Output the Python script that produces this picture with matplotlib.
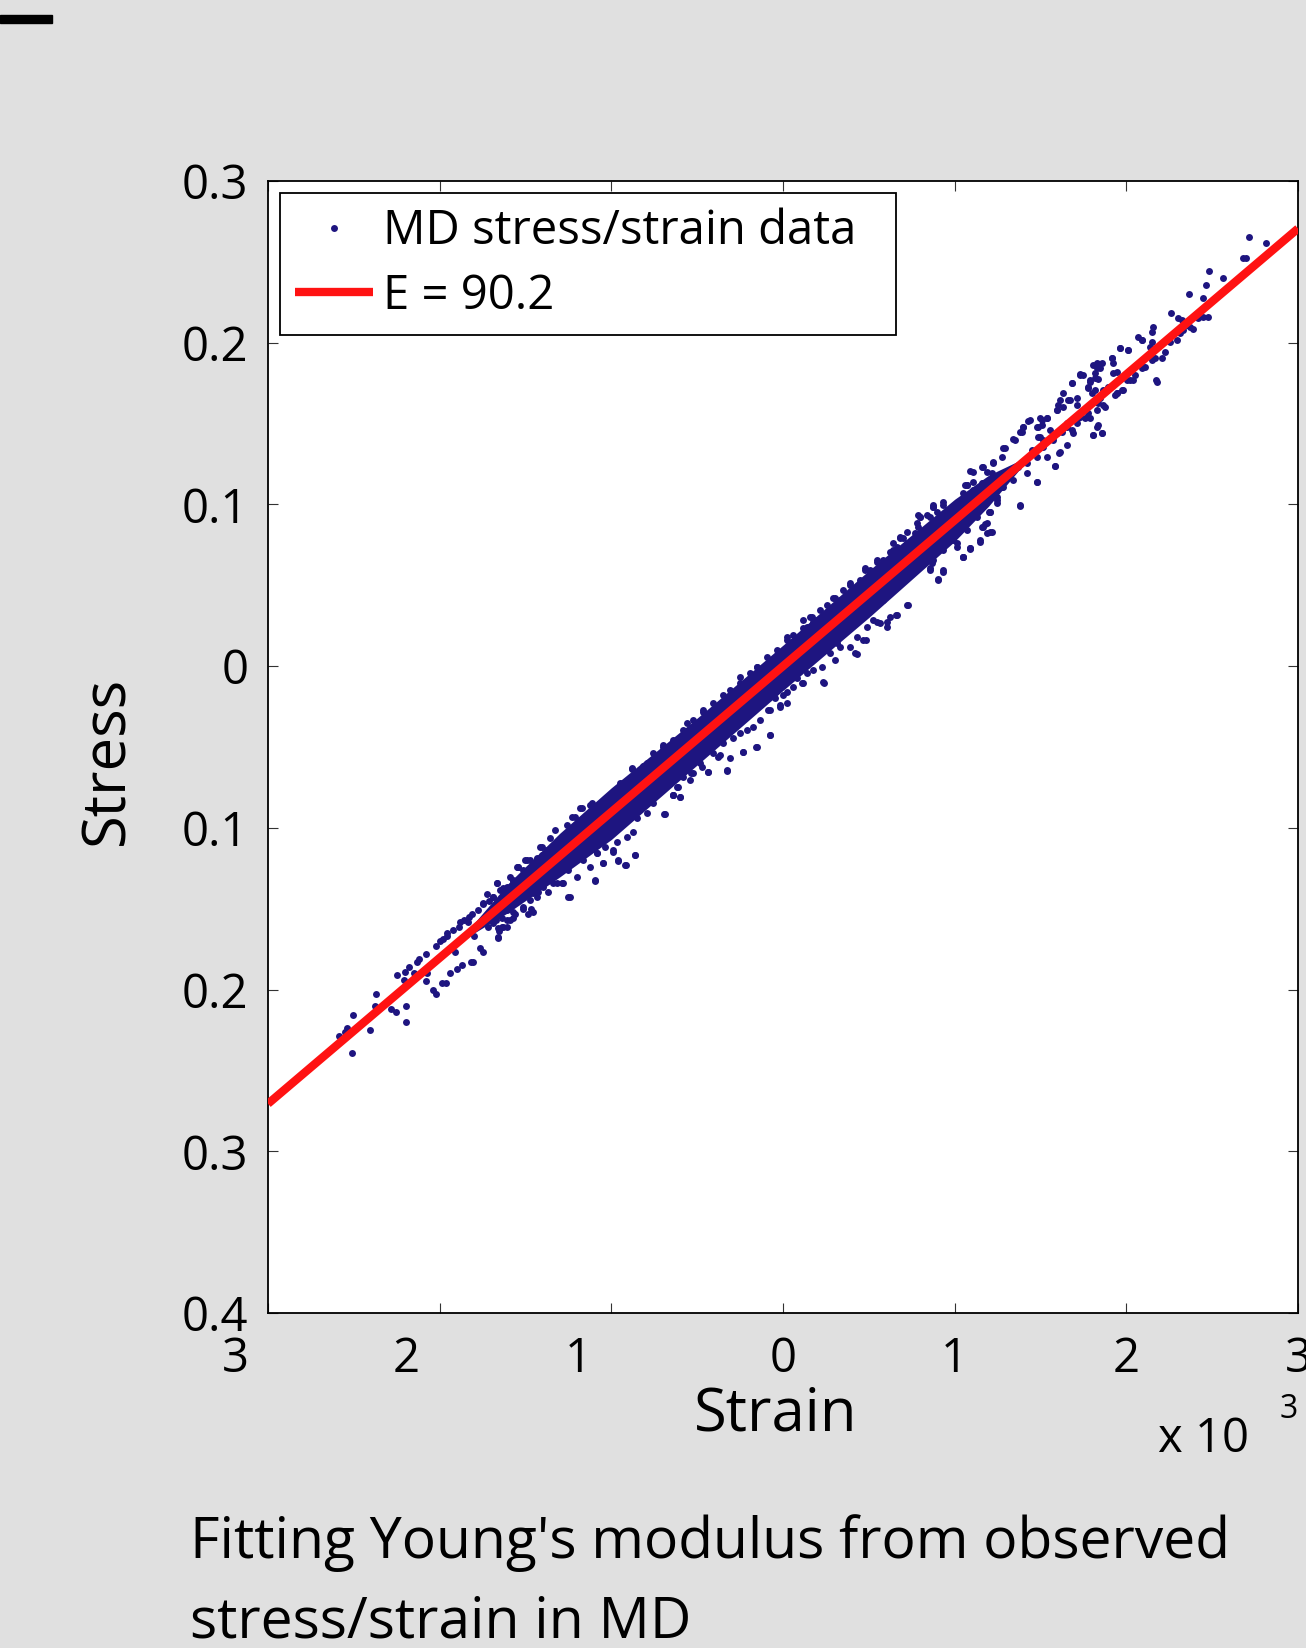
import numpy as np
import matplotlib
matplotlib.use("Agg")
import matplotlib.pyplot as plt
from matplotlib.patches import Rectangle
from matplotlib.transforms import ScaledTranslation

plt.rcParams['font.family'] = ['Open Sans', 'DejaVu Sans']

# MD stress/strain samples: (strain [x 1e-3], stress)
# lower-left tail
tail_low = [
    (-2.512, -0.239), (-2.585, -0.229), (-2.538, -0.224), (-2.551, -0.226), (-2.507, -0.216),
    (-2.404, -0.225), (-2.373, -0.203), (-2.377, -0.210), (-2.284, -0.212), (-2.253, -0.214),
    (-2.198, -0.220), (-2.194, -0.210), (-2.247, -0.191), (-2.208, -0.194), (-2.204, -0.189),
    (-2.177, -0.186), (-2.150, -0.190), (-2.134, -0.183), (-2.119, -0.181), (-2.081, -0.178),
    (-2.072, -0.190), (-2.081, -0.195), (-2.039, -0.2005), (-2.023, -0.203), (-1.985, -0.196),
    (-1.961, -0.196), (-1.940, -0.190), (-1.901, -0.187), (-1.870, -0.185), (-1.817, -0.183),
    (-1.804, -0.183), (-1.909, -0.177), (-2.023, -0.173), (-1.998, -0.170), (-1.979, -0.169),
    (-1.959, -0.167), (-1.956, -0.165), (-1.921, -0.163), (-1.886, -0.1615), (-1.882, -0.158),
    (-1.858, -0.157), (-1.827, -0.155), (-1.833, -0.158), (-1.798, -0.167), (-1.763, -0.174),
    (-1.746, -0.177), (-1.810, -0.153), (-1.775, -0.151), (-1.746, -0.147), (-1.711, -0.145),
    (-1.688, -0.1426), (-1.666, -0.134), (-1.720, -0.161), (-1.662, -0.168), (-1.653, -0.164),
    (-1.662, -0.1618), (-1.629, -0.161), (-1.610, -0.161), (-1.674, -0.157), (-1.660, -0.154),
    (-1.639, -0.156), (-1.610, -0.157), (-1.571, -0.156), (-1.561, -0.153), (-1.610, -0.151),
    (-1.594, -0.149), (-1.649, -0.1385), (-1.610, -0.1364), (-1.571, -0.133), (-1.532, -0.131),
    (-1.493, -0.129), (-1.464, -0.128), (-1.513, -0.150), (-1.484, -0.153), (-1.470, -0.150),
    (-1.513, -0.1426), (-1.493, -0.1405), (-1.455, -0.140), (-1.425, -0.1395), (-1.542, -0.124),
    (-1.493, -0.120), (-1.435, -0.119), (-1.406, -0.117), (-1.416, -0.134), (-1.377, -0.133),
    (-1.357, -0.132), (-1.318, -0.134), (-1.280, -0.134), (-1.251, -0.1426), (-1.095, -0.1327),
    (-1.047, -0.122), (-0.959, -0.1205), (-0.915, -0.123), (-0.862, -0.117), (-1.085, -0.1158),
    (-0.989, -0.1148),
]

# scattered points on both sides of the central band
centre_outliers = [
    (-0.691, -0.0917), (-0.600, -0.0808), (-0.639, -0.0797), (-0.439, -0.0653), (-0.325, -0.0647),
    (-0.231, -0.0533), (-0.155, -0.0503), (-0.076, -0.0428), (-0.377, -0.056), (-0.484, -0.060),
    (-0.534, -0.066), (-0.018, -0.0242), (-0.076, -0.027), (0.021, -0.0158), (0.112, -0.0106),
    (0.239, -0.0103), (0.429, 0.0075), (0.483, 0.0161), (0.545, 0.0275), (0.603, 0.0275),
    (0.658, 0.0316), (0.724, 0.0378), (0.905, 0.0539), (0.934, 0.0585), (1.050, 0.0673),
    (1.089, 0.0722), (1.148, 0.078), (1.206, 0.0831), (1.177, 0.088), (1.200, 0.0951),
    (0.868, 0.0638), (0.856, 0.0594), (0.934, 0.0718),
    (-1.183, -0.088), (-1.124, -0.0859), (-1.231, -0.093), (-1.406, -0.1117), (-1.503, -0.120),
    (-1.551, -0.124), (-0.881, -0.0632), (-0.950, -0.0725), (-0.697, -0.0488), (-0.561, -0.0354),
    (-0.464, -0.0283), (-0.250, -0.0066), (-0.153, -0.0004), (0.021, 0.0182), (0.167, 0.0306),
    (0.293, 0.0419), (0.390, 0.0512), (0.478, 0.0605), (0.545, 0.0657), (0.643, 0.076),
    (0.681, 0.080), (0.788, 0.0934), (0.876, 0.0996),
]

band_low = [
    (-0.882, -0.0633), (-0.814, -0.0618), (-0.775, -0.0602), (-0.930, -0.0725), (-0.988, -0.0777),
    (-1.037, -0.0839), (-1.115, -0.0849), (-1.173, -0.0880), (-1.212, -0.0931), (-1.260, -0.0983),
    (-1.328, -0.1014), (-1.357, -0.1065), (-1.415, -0.1117), (-1.474, -0.1199), (-1.542, -0.1241),
    (-1.590, -0.1303), (-1.668, -0.1344), (-1.726, -0.1406), (-1.746, -0.1467), (-0.833, -0.0684),
    (-0.911, -0.0767), (-0.949, -0.0808), (-1.076, -0.0911), (-1.144, -0.0952), (-1.241, -0.1024),
    (-1.299, -0.1076), (-1.377, -0.1138), (-1.435, -0.1189), (-1.513, -0.1261), (-1.571, -0.1323),
    (-1.629, -0.1375), (-1.687, -0.1426),
    (-0.687, -0.0915), (-0.639, -0.0797), (-0.610, -0.0746), (-0.755, -0.0849), (-0.794, -0.0911),
    (-0.852, -0.0942), (-0.872, -0.1024), (-0.911, -0.1055), (-0.969, -0.1086), (-0.988, -0.1138),
    (-1.037, -0.1117), (-1.085, -0.1158), (-1.124, -0.1241), (-1.163, -0.1199), (-1.202, -0.1303),
    (-1.250, -0.1261), (-1.241, -0.1426), (-1.289, -0.1344), (-1.338, -0.1344), (-1.396, -0.1364),
    (-1.435, -0.1426), (-1.474, -0.1447), (-1.513, -0.1488), (-1.454, -0.1519), (-1.571, -0.1519),
    (-1.590, -0.1570), (-1.639, -0.1612), (-1.658, -0.1674), (-1.687, -0.1591), (-0.862, -0.1169),
    (-0.920, -0.1230), (-0.959, -0.1199), (-1.047, -0.1220), (-1.095, -0.1323), (-1.367, -0.1395),
    (-1.299, -0.1199), (-1.280, -0.1127),
]

band_mid = [
    (-0.794, -0.0601), (-0.755, -0.0540), (-0.697, -0.0498), (-0.639, -0.0457), (-0.581, -0.0395),
    (-0.522, -0.0333), (-0.464, -0.0272), (-0.406, -0.0230), (-0.348, -0.0179), (-0.309, -0.0148),
    (-0.250, -0.0107), (-0.192, -0.0045), (-0.153, -0.0004), (-0.095, 0.0058), (-0.037, 0.0100),
    (0.021, 0.0161), (0.060, 0.0192), (0.118, 0.0233), (0.177, 0.0275), (-0.716, -0.0560),
    (-0.619, -0.0478), (-0.542, -0.0395), (-0.445, -0.0313), (-0.367, -0.0251), (-0.270, -0.0169),
    (-0.192, -0.0096), (-0.115, -0.0024), (-0.017, 0.0058), (0.080, 0.0141), (0.157, 0.0213),
    (0.254, 0.0099), (0.284, 0.0161), (0.303, 0.0038), (0.225, -0.0004), (0.177, -0.0024),
    (0.138, -0.0045), (0.118, -0.0107), (0.235, -0.0096), (0.080, -0.0076), (0.002, -0.0179),
    (-0.017, -0.0251), (-0.047, -0.0199), (-0.085, -0.0272), (-0.076, -0.0426), (-0.153, -0.0498),
    (-0.173, -0.0375), (-0.212, -0.0395), (-0.250, -0.0416), (-0.231, -0.0529), (-0.289, -0.0447),
    (-0.309, -0.0570), (-0.328, -0.0643), (-0.367, -0.0550), (-0.406, -0.0540), (-0.435, -0.0653),
    (-0.445, -0.0498), (-0.503, -0.0581), (-0.522, -0.0663), (-0.542, -0.0704), (-0.581, -0.0684),
    (-0.600, -0.0808), (-0.639, -0.0797), (-0.658, -0.0725), (-0.697, -0.0746), (-0.736, -0.0777),
    (-0.775, -0.0808), (0.060, -0.0127), (0.021, -0.0230), (-0.134, -0.0333), (-0.348, -0.0478),
    (-0.474, -0.0622), (-0.619, -0.0746),
]

band_high = [
    (0.118, 0.0285), (0.157, 0.0306), (0.216, 0.0347), (0.254, 0.0378), (0.303, 0.0419),
    (0.351, 0.0471), (0.390, 0.0502), (0.449, 0.0533), (0.478, 0.0594), (0.507, 0.0594),
    (0.546, 0.0646), (0.584, 0.0656), (0.623, 0.0708), (0.662, 0.0739), (0.701, 0.0790),
    (0.720, 0.0759), (0.769, 0.0821), (0.788, 0.0862), (0.798, 0.0924), (0.837, 0.0935),
    (0.876, 0.0986), (0.895, 0.0955), (0.934, 0.1017), (0.953, 0.0966), (1.012, 0.1007),
    (1.050, 0.1069), (1.070, 0.1120), (1.109, 0.1089), (1.157, 0.1130),
    (0.138, 0.0244), (0.196, 0.0285), (0.274, 0.0347), (0.332, 0.0409), (0.410, 0.0471),
    (0.487, 0.0533), (0.565, 0.0594), (0.643, 0.0667), (0.720, 0.0728), (0.798, 0.0801),
    (0.876, 0.0873), (0.953, 0.0945), (1.031, 0.1017), (1.109, 0.1058),
    (1.264, 0.1110), (1.245, 0.1027), (1.206, 0.0955), (1.186, 0.0883), (1.157, 0.0862),
    (1.215, 0.0831), (1.148, 0.0770), (1.089, 0.0728), (1.050, 0.0677), (0.992, 0.0780),
    (0.934, 0.0594), (0.905, 0.0533), (0.856, 0.0605), (0.876, 0.0656), (0.798, 0.0708),
    (0.740, 0.0615), (0.720, 0.0553), (0.730, 0.0378), (0.662, 0.0316), (0.623, 0.0306),
    (0.604, 0.0244), (0.565, 0.0265), (0.526, 0.0285), (0.487, 0.0244), (0.468, 0.0162),
    (0.429, 0.0182), (0.419, 0.0079), (0.390, 0.0120), (0.332, 0.0120), (0.313, 0.0141),
    (0.274, 0.0079), (0.254, 0.0162), (0.216, 0.0100), (0.177, 0.0079), (0.138, 0.0058),
    (0.584, 0.0409), (0.643, 0.0471), (0.526, 0.0368), (0.817, 0.0656), (1.012, 0.0739),
    (1.070, 0.0842), (1.128, 0.0924), (0.449, 0.0306), (0.351, 0.0223),
]

tail_high = [
    (1.060, 0.1120), (1.109, 0.1203), (1.157, 0.1234), (1.225, 0.1265), (1.215, 0.1192),
    (1.274, 0.1295), (1.293, 0.1347), (1.351, 0.1399), (1.390, 0.1450), (1.400, 0.1481),
    (1.439, 0.1522), (1.487, 0.1481), (1.507, 0.1522), (1.536, 0.1533), (1.497, 0.1419),
    (1.448, 0.1337), (1.594, 0.1584), (1.604, 0.1615), (1.633, 0.1687), (1.672, 0.1646),
    (1.682, 0.1749), (1.711, 0.1615), (1.730, 0.1801), (1.749, 0.1801), (1.779, 0.1728),
    (1.788, 0.1770), (1.808, 0.1862), (1.817, 0.1780), (1.856, 0.1873), (1.827, 0.1842),
    (1.915, 0.1904), (1.924, 0.1811), (1.963, 0.1965), (2.012, 0.1955), (2.089, 0.2017),
    (2.177, 0.1759), (2.109, 0.1852), (2.002, 0.1770), (1.944, 0.1687), (1.885, 0.1708),
    (1.847, 0.1656),
    (1.381, 0.0997), (1.206, 0.0955), (1.478, 0.1141), (1.584, 0.1238), (1.614, 0.1326),
    (1.536, 0.1295), (1.652, 0.1368), (1.691, 0.1440), (1.711, 0.1502), (1.730, 0.1543),
    (1.779, 0.1564), (1.808, 0.1429), (1.856, 0.1444), (1.827, 0.1481), (1.866, 0.1615),
    (1.827, 0.1584), (1.934, 0.1677), (1.982, 0.1708), (2.041, 0.1770), (2.089, 0.1842),
    (2.148, 0.1893), (2.167, 0.1904), (1.283, 0.1110), (1.342, 0.1151), (1.419, 0.1192),
    (1.245, 0.1048), (1.148, 0.1048), (1.109, 0.1079), (1.070, 0.1048), (1.167, 0.1131),
    (1.303, 0.1192), (1.371, 0.1234), (1.419, 0.1254), (1.478, 0.1295), (1.516, 0.1357),
    (1.575, 0.1399), (1.623, 0.1450), (1.652, 0.1481), (1.720, 0.1533),
]

tail_top = [
    (2.714, 0.2656), (2.813, 0.2619), (2.681, 0.2522), (2.697, 0.2522), (2.481, 0.2443),
    (2.561, 0.2402), (2.464, 0.2357), (2.363, 0.2301), (2.444, 0.2274), (2.258, 0.2182),
    (2.303, 0.2151), (2.322, 0.2140), (2.351, 0.2109), (2.371, 0.2099), (2.390, 0.2083),
    (2.419, 0.2151), (2.448, 0.2161), (2.477, 0.2161), (2.332, 0.2079), (2.312, 0.2062),
    (2.254, 0.2006), (2.293, 0.2017), (2.206, 0.1903), (2.225, 0.1945), (2.157, 0.2099),
    (2.147, 0.2068), (2.070, 0.2037), (2.089, 0.2017), (2.147, 0.2006), (2.138, 0.1975),
    (2.173, 0.1769), (2.099, 0.1852), (2.050, 0.1800), (2.021, 0.1769), (1.963, 0.1965),
    (2.011, 0.1955), (1.914, 0.1903), (1.924, 0.1872), (1.943, 0.1821), (1.827, 0.1872),
    (1.847, 0.1842), (1.817, 0.1811), (1.730, 0.1806), (1.681, 0.1753), (1.788, 0.1759),
    (1.837, 0.1773), (1.778, 0.1718), (1.817, 0.1708), (1.798, 0.1687), (1.866, 0.1708),
    (1.895, 0.1728), (1.943, 0.1687), (1.973, 0.1708), (1.837, 0.1625), (1.876, 0.1604),
    (1.808, 0.1429), (1.856, 0.1439), (1.837, 0.1491), (1.788, 0.1532), (1.759, 0.1532),
    (1.613, 0.1646), (1.594, 0.1584), (1.633, 0.1604), (1.662, 0.1646), (1.710, 0.1656),
    (1.429, 0.1518), (1.400, 0.1481), (1.497, 0.1532), (1.536, 0.1532), (1.477, 0.1481),
    (1.507, 0.1491), (1.555, 0.1460), (1.574, 0.1419), (1.594, 0.1440), (1.652, 0.1501),
    (1.681, 0.1460), (1.487, 0.1419), (1.516, 0.1398), (1.609, 0.1320), (1.586, 0.1237),
    (1.477, 0.1139), (1.380, 0.0990), (1.341, 0.1402), (1.380, 0.1450), (1.283, 0.1347),
    (1.225, 0.1254), (1.167, 0.1233), (1.186, 0.1202), (1.089, 0.1207), (1.070, 0.1120),
    (1.109, 0.1141), (1.274, 0.1110), (1.206, 0.1038), (1.244, 0.1007), (1.167, 0.0862),
    (1.186, 0.0821), (1.089, 0.0728), (1.050, 0.0677), (0.934, 0.0999), (0.992, 0.0986),
    (0.875, 0.0986), (0.856, 0.0924), (0.798, 0.0924), (0.778, 0.0883), (0.681, 0.0790),
    (0.720, 0.0831), (0.642, 0.0718), (0.973, 0.0821), (1.011, 0.0759),
]

# solid core of the cloud, upper and lower edges (tapers off at both ends)
core_strain = [-1.9, -1.6, -1.3, -1.0, -0.5, 0.0, 0.5, 1.0, 1.2, 1.45]
core_upper = [-0.1714, -0.1343, -0.1033, -0.0752, -0.0321, 0.013, 0.0591, 0.1032, 0.1182, 0.1308]
core_lower = [-0.1714, -0.1523, -0.1303, -0.1072, -0.0611, -0.015, 0.0301, 0.0772, 0.0992, 0.1308]

# fitted line, E = 90.2
fit_strain = [-3.0, 3.0]
fit_stress = [-0.2706, 0.2706]

xticks = [-3, -2, -1, 0, 1, 2, 3]
xtick_labels = ['3', '2', '1', '0', '1', '2', '3']
yticks = [-0.4, -0.3, -0.2, -0.1, 0.0, 0.1, 0.2, 0.3]
ytick_labels = ['0.4', '0.3', '0.2', '0.1', '0', '0.1', '0.2', '0.3']

points = tail_low + centre_outliers + band_low + band_mid + band_high + tail_high + tail_top
strain = np.array([p[0] for p in points])
stress = np.array([p[1] for p in points])

navy = '#1e1580'
W, H = 1306, 1648
fig = plt.figure(figsize=(W / 100, H / 100), dpi=100, facecolor='#e0e0e0')
ax = fig.add_axes([268 / W, 1 - 1313 / H, 1030 / W, 1132 / H])
ax.set_facecolor('white')

ax.fill_between(core_strain, core_lower, core_upper, color=navy, lw=0, zorder=2)
ax.plot(strain, stress, 'o', color=navy, ms=5.0, mew=0, zorder=2,
        label='MD stress/strain data')
ax.plot(fit_strain, fit_stress, color='#ff1212', lw=6.0, solid_capstyle='butt',
        zorder=3, label='E = 90.2')

ax.set_xlim(-3, 3)
ax.set_ylim(-0.4, 0.3)
ax.set_xticks(xticks)
ax.set_xticklabels(xtick_labels)
ax.set_yticks(yticks)
ax.set_yticklabels(ytick_labels)
ax.tick_params(direction='in', top=True, right=True, length=7.5, width=0.8,
               color='#333333', labelsize=34)
ax.tick_params(axis='y', pad=14)
ax.tick_params(axis='x', pad=16)
for sp in ax.spines.values():
    sp.set_linewidth(1.3)

# negative strain labels sit left of their ticks (blank minus sign in the original)
shift = ScaledTranslation(-0.33, 0, fig.dpi_scale_trans)
for lab in ax.get_xticklabels()[:3]:
    lab.set_transform(lab.get_transform() + shift)

ax.set_xlabel('Strain', fontsize=43)
ax.xaxis.label.set_va('baseline')
ax.xaxis.set_label_coords(0.493, -0.1034)
ax.set_ylabel('Stress', fontsize=43)
ax.yaxis.label.set_va('center')
ax.yaxis.set_label_coords(-0.156, 0.4885)

ax.text(0.864, -0.1228, 'x 10', transform=ax.transAxes, fontsize=34, va='baseline')
ax.text(0.9825, -0.0928, '3', transform=ax.transAxes, fontsize=23, va='baseline')

leg = ax.legend(loc='upper left', bbox_to_anchor=(0.0117, 0.8675, 0.598, 0.122),
                mode='expand', borderaxespad=0, fontsize=34, numpoints=1,
                handlelength=1.65, handletextpad=0.22, borderpad=0.32,
                labelspacing=0.36, fancybox=False, framealpha=1)
leg.get_frame().set_edgecolor('black')
leg.get_frame().set_linewidth(1.3)

fig.add_artist(Rectangle((0, 1 - 23 / H), 52 / W, 8 / H, transform=fig.transFigure,
                         color='black'))
fig.text(190 / W, 1 - 1558 / H, "Fitting Young's modulus from observed", fontsize=41,
         va='baseline')
fig.text(190 / W, 1 - 1637 / H, 'stress/strain in MD', fontsize=41, va='baseline')

fig.savefig('out.png', dpi=100, facecolor=fig.get_facecolor())
